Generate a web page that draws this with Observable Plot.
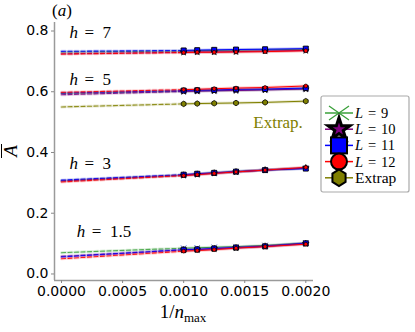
<!DOCTYPE html>
<html><head><meta charset="utf-8">
<script src="https://cdn.jsdelivr.net/npm/d3@7"></script>
<script src="https://cdn.jsdelivr.net/npm/@observablehq/plot@0.6"></script>
<style>
body{margin:0;background:#fff;}
#wrap{position:relative;width:415px;height:332px;overflow:hidden;background:#fff;}
#wrap svg{position:absolute;left:0;top:0;}
.serif{font-family:"Liberation Serif","Times New Roman",serif;color:#000;position:absolute;white-space:nowrap;}
</style></head><body><div id="wrap"></div><script>
// x positions: 1/n_max
const invN = [1/1000, 1/900, 1/800, 1/700, 1/600, 1/500];
const seriesNames = ["L = 9", "L = 10", "L = 11", "L = 12", "Extrap"];
const seriesColors = ["#3aa03a", "#800080", "#0000ff", "#ff0000", "#808000"];
const hValues = ["7", "5", "3", "1.5"];
const xTicks = [0, 0.0005, 0.001, 0.0015, 0.002];
const yTicks = [0, 0.2, 0.4, 0.6, 0.8];

// h = 7
const h7_L9  = [0.734, 0.735, 0.736, 0.737, 0.738, 0.740];
const h7_L10 = [0.730, 0.731, 0.731, 0.732, 0.734, 0.736];
const h7_L11 = [0.736, 0.737, 0.738, 0.739, 0.740, 0.742];
const h7_L12 = [0.729, 0.730, 0.730, 0.731, 0.732, 0.735];
// h = 5
const h5_L9  = [0.602, 0.603, 0.604, 0.605, 0.607, 0.610];
const h5_L10 = [0.601, 0.602, 0.603, 0.604, 0.606, 0.609];
const h5_L11 = [0.604, 0.605, 0.606, 0.608, 0.609, 0.612];
const h5_L12 = [0.607, 0.608, 0.610, 0.612, 0.614, 0.619];
const h5_Extrap = [0.560, 0.561, 0.562, 0.563, 0.565, 0.569];
// h = 3
const h3_L9  = [0.326, 0.329, 0.333, 0.337, 0.342, 0.348];
const h3_L10 = [0.325, 0.328, 0.332, 0.336, 0.342, 0.349];
const h3_L11 = [0.327, 0.330, 0.333, 0.337, 0.342, 0.347];
const h3_L12 = [0.324, 0.327, 0.331, 0.336, 0.342, 0.351];
// h = 1.5
const h15_L9  = [0.085, 0.086, 0.088, 0.090, 0.094, 0.102];
const h15_L10 = [0.079, 0.080, 0.083, 0.086, 0.091, 0.100];
const h15_L11 = [0.080, 0.081, 0.084, 0.087, 0.091, 0.101];
const h15_L12 = [0.075, 0.077, 0.080, 0.085, 0.090, 0.098];
// extrapolated values at 1/n_max = 0 (L=9, 10, 11, 12[, Extrap])
const intercept_h7  = [0.731, 0.725, 0.733, 0.724];
const intercept_h5  = [0.594, 0.590, 0.596, 0.598, 0.550];
const intercept_h3  = [0.307, 0.306, 0.309, 0.303];
const intercept_h15 = [0.070, 0.058, 0.056, 0.050];

// annotation anchors (data coordinates)
const hLabelX = [0.0000, 0.0000, 0.0000, 0.00006];
const hLabelY = [0.795, 0.640, 0.365, 0.140];
const extrapLabel = [{x: 0.00157, y: 0.4975, text: "Extrap."}];

const groups = [
  {h: "7",   series: [h7_L9, h7_L10, h7_L11, h7_L12], icpt: intercept_h7},
  {h: "5",   series: [h5_L9, h5_L10, h5_L11, h5_L12, h5_Extrap], icpt: intercept_h5},
  {h: "3",   series: [h3_L9, h3_L10, h3_L11, h3_L12], icpt: intercept_h3},
  {h: "1.5", series: [h15_L9, h15_L10, h15_L11, h15_L12], icpt: intercept_h15}
];
const points = [], dashed = [];
groups.forEach(g => {
  g.series.forEach((vals, i) => {
    const s = seriesNames[i], key = g.h + "|" + s;
    vals.forEach((v, j) => points.push({h: g.h, s, key, x: invN[j], y: v}));
    dashed.push({h: g.h, s, key, x: 0, y: g.icpt[i]});
    dashed.push({h: g.h, s, key, x: invN[0], y: vals[0]});
  });
});
const labels = hValues.map((h, i) => ({h, x: hLabelX[i], y: hLabelY[i]}));
const serif = "Liberation Serif, Times New Roman, serif";

const dotSpec = {
  "L = 9":  {symbol: "times", r: 2.6, fill: "none", stroke: "#5060d0", strokeWidth: 0.9},
  "L = 10": {symbol: "star", r: 2.1, fill: seriesColors[1], stroke: "black", strokeWidth: 0.7},
  "L = 11": {symbol: "square", r: 2.8, fill: seriesColors[2], stroke: "black", strokeWidth: 0.9},
  "L = 12": {symbol: "circle", r: 1.9, fill: seriesColors[3], stroke: "black", strokeWidth: 0.7},
  "Extrap": {symbol: "hexagon", r: 2.4, fill: seriesColors[4], stroke: "black", strokeWidth: 0.8}
};

const marks = [
  Plot.ruleX([-0.0000574], {stroke: "#9a9a9a", strokeWidth: 1.5}),
  Plot.ruleY([-0.0215], {stroke: "#9a9a9a", strokeWidth: 1.5}),
  Plot.axisX({ticks: xTicks, tickFormat: d3.format(".4f"), tickSize: 3, tickPadding: 3, stroke: "#888", fill: "black", label: null}),
  Plot.axisY({ticks: yTicks, tickFormat: d3.format(".1f"), tickSize: 3, tickPadding: 3, stroke: "#888", fill: "black", label: null})
];
seriesNames.forEach(s => {
  const d = dashed.filter(r => r.s === s);
  if (!d.length) return;
  marks.push(Plot.line(d, {x: "x", y: "y", z: "key", stroke: "s", strokeWidth: 3, strokeOpacity: 0.18, strokeDasharray: "4,2.5"}));
  marks.push(Plot.line(d, {x: "x", y: "y", z: "key", stroke: "s", strokeWidth: 1.1, strokeOpacity: 0.85, strokeDasharray: "4,2.5"}));
});
seriesNames.forEach(s => {
  const p = points.filter(r => r.s === s);
  if (!p.length) return;
  marks.push(Plot.line(p, {x: "x", y: "y", z: "key", stroke: "s", strokeWidth: 3, strokeOpacity: 0.2}));
  marks.push(Plot.line(p, {x: "x", y: "y", z: "key", stroke: "s", strokeWidth: 1}));
});
seriesNames.forEach(s => {
  const p = points.filter(r => r.s === s);
  if (!p.length) return;
  marks.push(Plot.dot(p, {x: "x", y: "y", ...dotSpec[s]}));
});
marks.push(Plot.text(labels, {x: "x", y: "y", text: () => "h", fontStyle: "italic", textAnchor: "start", fontFamily: serif, fontSize: 17, fill: "black", dx: 8}));
marks.push(Plot.text(labels, {x: "x", y: "y", text: d => "=\u2002" + d.h, textAnchor: "start", fontFamily: serif, fontSize: 17, fill: "black", dx: 23}));
marks.push(Plot.text(extrapLabel, {x: "x", y: "y", text: "text", textAnchor: "start", fontFamily: serif, fontSize: 17, fill: seriesColors[4]}));

const plot = Plot.plot({
  width: 415, height: 332,
  marginLeft: 54, marginRight: 102, marginTop: 22, marginBottom: 52,
  x: {domain: [-0.0000574, 0.002063]},
  y: {domain: [-0.0215, 0.828]},
  color: {domain: seriesNames, range: seriesColors},
  style: {fontFamily: "DejaVu Sans", fontSize: "14px", color: "black", background: "transparent"},
  marks
});
const wrap = document.getElementById("wrap");
wrap.appendChild(plot);

// (a) panel label
const pa = document.createElement("div");
pa.className = "serif"; pa.style.left = "52px"; pa.style.top = "1px"; pa.style.fontSize = "17px";
pa.innerHTML = "(<i>a</i>)";
wrap.appendChild(pa);

// y label: A with overline
const yl = document.createElement("div");
yl.className = "serif";
yl.style.cssText += "left:-4px;top:139px;width:30px;height:24px;text-align:center;font-size:19px;transform:rotate(-90deg);line-height:20px;";
yl.innerHTML = "<span style='display:inline-block;border-top:1.4px solid #000;line-height:17px;padding:0 1px;margin-top:2px;'><i>A</i></span>";
wrap.appendChild(yl);

// x label
const xl = document.createElement("div");
xl.className = "serif";
xl.style.cssText += "left:133px;width:100px;top:301px;text-align:center;font-size:19px;";
xl.innerHTML = "1/<i>n</i><span style='font-size:13px;position:relative;top:4px;'>max</span>";
wrap.appendChild(xl);

// legend
const lg = d3.create("svg").attr("width", 90).attr("height", 98)
  .style("position", "absolute").style("left", "320px").style("top", "95px");
lg.append("rect").attr("x", 1).attr("y", 1).attr("width", 88).attr("height", 96).attr("rx", 2)
  .attr("fill", "white").attr("stroke", "#aaa").attr("stroke-width", 1.2);
seriesNames.forEach((s, i) => {
  const cy = 18 + i * 16.2, c = seriesColors[i];
  const g = lg.append("g").attr("transform", `translate(19,${cy})`);
  g.append("line").attr("x1", -14).attr("x2", 14).attr("stroke", c).attr("stroke-width", 1.5);
  if (s === "L = 9") {
    g.append("path").attr("d", "M-10,-7L10,7M-10,7L10,-7").attr("stroke", c).attr("stroke-width", 1.3);
  } else if (s === "L = 10") {
    g.append("path").attr("d", d3.symbol(d3.symbolStar, 150)()).attr("fill", c).attr("stroke", "black").attr("stroke-width", 3);
  } else if (s === "L = 11") {
    g.append("rect").attr("x", -8).attr("y", -8).attr("width", 16).attr("height", 16).attr("fill", c).attr("stroke", "black").attr("stroke-width", 2);
  } else if (s === "L = 12") {
    g.append("circle").attr("r", 8).attr("fill", c).attr("stroke", "black").attr("stroke-width", 2);
  } else {
    const pts = d3.range(6).map(k => { const a = Math.PI / 3 * k - Math.PI / 2; return [7.6 * Math.cos(a), 8.3 * Math.sin(a)]; });
    g.append("path").attr("d", "M" + pts.join("L") + "Z").attr("fill", c).attr("stroke", "black").attr("stroke-width", 2);
  }
  const t = lg.append("text").attr("x", 35).attr("y", cy + 5)
    .attr("font-family", serif).attr("font-size", 14.5).attr("fill", "black");
  if (s === "Extrap") t.attr("font-size", 15.5).text("Extrap");
  else {
    t.append("tspan").attr("font-style", "italic").text("L");
    t.append("tspan").text("\u2004=\u2004" + s.split("= ")[1]);
  }
});
wrap.appendChild(lg.node());
</script></body></html>
